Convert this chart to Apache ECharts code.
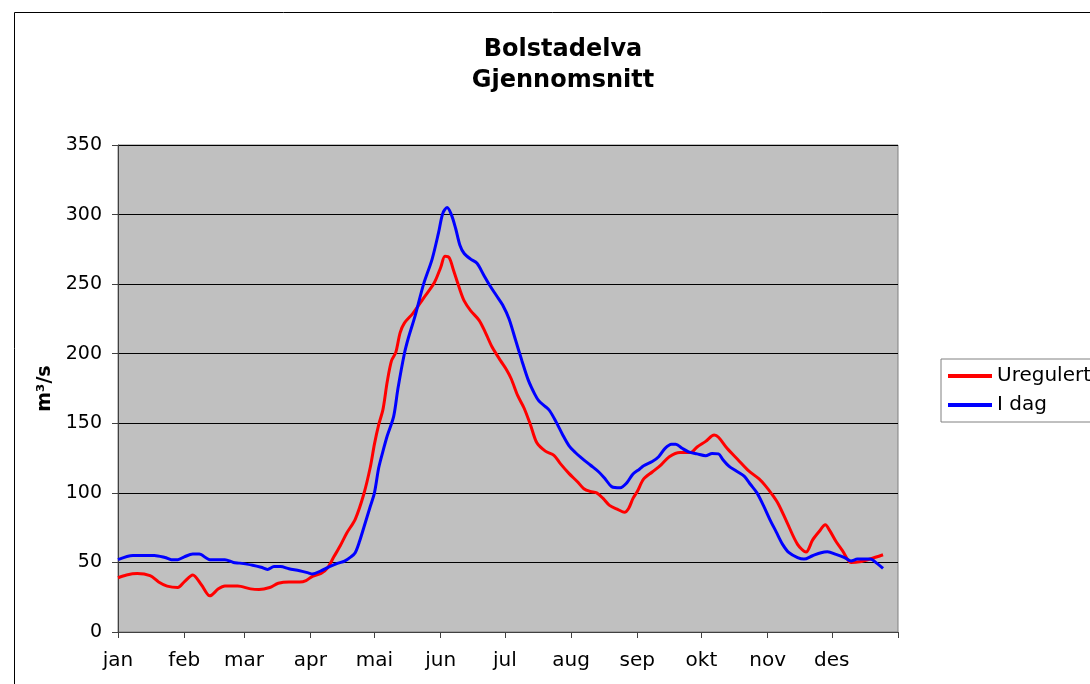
<!DOCTYPE html>
<html>
<head>
<meta charset="utf-8">
<script src="https://cdn.jsdelivr.net/npm/echarts@6/dist/echarts.min.js"></script>
<style>
  html, body { margin: 0; padding: 0; background: #fff; }
  #chart { width: 1090px; height: 684px; }
</style>
</head>
<body>
<div id="chart"></div>
<script>
// month starts (day of year) and labels
const monthStarts = [0, 31, 59, 90, 120, 151, 181, 212, 243, 273, 304, 334, 365]
const monthLabels = ['jan', 'feb', 'mar', 'apr', 'mai', 'jun', 'jul', 'aug', 'sep', 'okt', 'nov', 'des']
const yTicks = [0, 50, 100, 150, 200, 250, 300, 350]

// Uregulert (red)
const uregulertDays = [0, 4, 9, 15, 19, 23, 28, 31, 35, 39, 43, 47, 50, 56, 62, 66, 71, 75, 80, 85, 88, 91, 95, 98, 101, 104, 107, 111, 115, 118, 120, 122, 124, 126, 128, 130, 132, 134, 138, 143, 148, 151, 153, 155, 157, 160, 162, 165, 169, 172, 175, 179, 182, 184, 187, 190, 193, 196, 200, 204, 207, 211, 215, 218, 221, 224, 227, 230, 234, 237, 239, 241, 243, 246, 250, 254, 258, 263, 268, 271, 275, 279, 281, 285, 290, 295, 300, 303, 306, 309, 313, 318, 322, 325, 328, 331, 333, 336, 339, 343, 347, 352, 358]
const uregulertValues = [39, 41, 42, 40.5, 36, 33, 32, 36, 41, 34, 26, 31, 33, 33, 31, 30.5, 32, 35, 36, 36, 37, 40, 42, 46, 54, 62, 71, 81, 99, 118, 135, 149, 160, 180, 195, 201, 215, 222, 229, 240, 251, 262, 270, 269, 260, 246, 238, 231, 224, 215, 205, 195, 188, 182, 170, 161, 149, 136, 130, 127, 121, 114, 108, 103, 101, 100, 96, 91, 88, 86, 89, 96, 101, 110, 115, 120, 126, 129, 129, 133, 137, 141.5, 140, 132, 124, 116, 110, 105, 99, 92, 79, 63, 57.5, 66, 72, 77, 73, 65, 58.5, 50, 50.5, 52.5, 55.5]

// I dag (blue)
const iDagDays = [0, 7, 12, 17, 22, 25, 28, 31, 35, 38, 43, 47, 50, 54, 57, 63, 67, 70, 73, 76, 80, 85, 89, 91, 95, 99, 103, 106, 109, 111, 113, 116, 118, 120, 122, 124, 126, 129, 131, 134, 136, 139, 143, 147, 150, 152, 154, 156, 158, 160, 162, 165, 168, 171, 174, 177, 180, 183, 186, 189, 192, 195, 197, 200, 202, 205, 208, 211, 214, 217, 221, 225, 228, 231, 235, 238, 241, 244, 246, 250, 253, 256, 259, 261, 264, 267, 271, 275, 278, 281, 283, 286, 289, 293, 296, 299, 302, 305, 308, 311, 314, 318, 321, 325, 329, 332, 336, 340, 343, 346, 352, 355, 358]
const iDagValues = [52, 55, 55, 55, 53.5, 52, 52, 54, 56, 56, 52, 52, 52, 50, 49.5, 48, 46.5, 45, 47, 47, 45.5, 44, 42.5, 41.7, 44, 47, 49.5, 51, 54, 57, 65, 80, 90, 100, 118, 130, 141, 155, 175, 200, 212, 227, 250, 268, 287, 301, 305, 300, 290, 278, 272, 268, 265, 257, 249, 242, 235, 225, 210, 195, 181, 171, 166, 162, 159, 151, 142, 134, 129, 125, 120, 115, 110, 104.5, 103.6, 107, 113.6, 117, 119.5, 122.5, 126, 132, 135, 135, 132, 129.5, 128, 126.7, 128.3, 128, 124, 119, 116, 112, 106, 100, 91, 81, 72, 63, 57, 53.5, 52.4, 54.8, 57, 57.6, 55.8, 53.5, 51, 52.4, 52.4, 49.5, 45.7]

const font = '"DejaVu Sans", Verdana, sans-serif'
const zip = (xs, ys) => xs.map((x, i) => [x, ys[i]])

const chart = echarts.init(document.getElementById('chart'))
const option = {
  animation: false,
  backgroundColor: '#fff',
  textStyle: { fontFamily: font },
  graphic: [
    {
      type: 'rect',
      shape: { x: 14.5, y: 12.5, width: 1100, height: 700 },
      style: { fill: 'none', stroke: '#000', lineWidth: 1 },
      silent: true
    },
    {
      type: 'text',
      x: 563, y: 50,
      style: { text: 'Bolstadelva', font: 'bold 24px ' + font, fill: '#000', align: 'center', verticalAlign: 'middle' }
    },
    {
      type: 'text',
      x: 563, y: 81,
      style: { text: 'Gjennomsnitt', font: 'bold 24px ' + font, fill: '#000', align: 'center', verticalAlign: 'middle' }
    }
  ],
  legend: {
    orient: 'vertical',
    left: 941,
    top: 359,
    padding: [7, 60, 7, 7],
    itemGap: 9,
    itemWidth: 44,
    itemHeight: 4,
    icon: 'rect',
    borderColor: '#808080',
    borderWidth: 1,
    textStyle: { fontSize: 20, color: '#000', fontFamily: font },
    data: ['Uregulert', 'I dag']
  },
  grid: {
    left: 118,
    right: 192,
    top: 145,
    bottom: 52,
    show: true,
    backgroundColor: '#c0c0c0',
    borderColor: '#808080',
    borderWidth: 1
  },
  xAxis: {
    type: 'value',
    min: 0,
    max: 365,
    axisLine: { show: true, onZero: false, lineStyle: { color: '#404040', width: 1 } },
    axisTick: { show: true, inside: false, length: 6, customValues: monthStarts, lineStyle: { color: '#404040' } },
    axisLabel: {
      customValues: monthStarts.slice(0, 12),
      formatter: (v) => monthLabels[monthStarts.indexOf(v)] || '',
      fontSize: 20,
      color: '#000',
      margin: 19,
      fontFamily: font
    },
    splitLine: { show: false }
  },
  yAxis: {
    type: 'value',
    min: 0,
    max: 350,
    interval: 50,
    name: 'm³/s',
    nameLocation: 'middle',
    nameGap: 60,
    nameTextStyle: { fontSize: 19, fontWeight: 'bold', color: '#000', fontFamily: font },
    axisLine: { show: true, lineStyle: { color: '#404040', width: 1 } },
    axisTick: { show: true, inside: false, length: 6, lineStyle: { color: '#404040' } },
    axisLabel: { fontSize: 19, color: '#000', margin: 16, fontFamily: font, formatter: (v) => yTicks.includes(v) ? String(v) : '' },
    splitLine: { show: true, lineStyle: { color: '#000', width: 1 } }
  },
  series: [
    {
      name: 'Uregulert',
      type: 'line',
      data: zip(uregulertDays, uregulertValues),
      showSymbol: false,
      smooth: 0.3,
      color: '#ff0000',
      lineStyle: { color: '#ff0000', width: 3 }
    },
    {
      name: 'I dag',
      type: 'line',
      data: zip(iDagDays, iDagValues),
      showSymbol: false,
      smooth: 0.3,
      color: '#0000ff',
      lineStyle: { color: '#0000ff', width: 3 }
    }
  ]
}
chart.setOption(option)
window.addEventListener('resize', () => chart.resize())
</script>
</body>
</html>
